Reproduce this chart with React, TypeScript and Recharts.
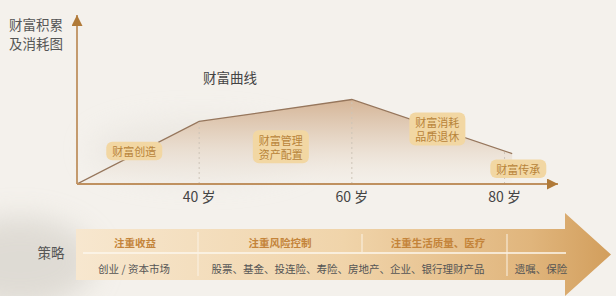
import React from 'react';
import { ComposedChart, Area, XAxis, YAxis, ReferenceLine, ReferenceDot } from 'recharts';

// ---- data ----
const ages = [24, 40, 60, 81];
const wealth = [0, 37, 50, 18];
const ageTicks = [40, 60, 80];
const guideAges = [40, 60, 80];
const guideTops = [37, 50, 20];
const stageLabels = [['财富创造'], ['财富管理', '资产配置'], ['财富消耗', '品质退休'], ['财富传承']];
const stageAges = [31.5, 50.7, 71.2, 81.8];
const stageLevels = [19.5, 22, 32.5, 9];
const strategyHeads = ['注重收益', '注重风险控制', '注重生活质量、医疗', ''];
const strategyItems = ['创业 / 资本市场', '股票、基金、投连险、寿险、房地产、企业、银行理财产品', '遗嘱、保险'];

const chartData = ages.map((a, i) => ({ age: a, wealth: wealth[i] }));

const FONT = "'Noto Sans CJK SC', 'Noto Sans', sans-serif";
const LINE_H = 14.5;

const StageBox = (props: any) => {
  const { cx, cy, lines } = props;
  const maxLen = Math.max(...lines.map((l: string) => l.length));
  const w = maxLen * 11 + 12;
  const h = lines.length * LINE_H + 4;
  return (
    <g>
      <rect x={cx - w / 2} y={cy - h / 2} width={w} height={h} rx={6} ry={6} fill="#f2d7a3" />
      {lines.map((l: string, i: number) => (
        <text
          key={i}
          x={cx}
          y={cy - ((lines.length - 1) * LINE_H) / 2 + i * LINE_H}
          textAnchor="middle"
          dominantBaseline="central"
          fontSize={11}
          fontFamily={FONT}
          fill="#b8843a"
        >
          {l}
        </text>
      ))}
    </g>
  );
};

export default function App() {
  return (
    <div style={{ position: 'absolute', left: 0, top: 0, width: 616, height: 296, background: '#f4f1ec', overflow: 'hidden' }}>
      <svg width={616} height={296} style={{ position: 'absolute', left: 0, top: 0 }}>
        <defs>
          <filter id="blurBg" x="-50%" y="-50%" width="200%" height="200%">
            <feGaussianBlur stdDeviation="14" />
          </filter>
        </defs>
        <ellipse cx={20} cy={262} rx={75} ry={45} fill="#d6d2ca" opacity={0.7} filter="url(#blurBg)" />
        <ellipse cx={200} cy={150} rx={110} ry={30} fill="#e6e2dc" opacity={0.6} filter="url(#blurBg)" />
      </svg>
      <div style={{ position: 'absolute', left: 0, top: 0 }}>
        <ComposedChart width={616} height={296} data={chartData} margin={{ top: 15, right: 58, bottom: 82, left: 67 }}>
          <defs>
            <linearGradient id="wealthFill" x1="0" y1="0" x2="0" y2="1">
              <stop offset="0%" stopColor="#d5b597" stopOpacity={1} />
              <stop offset="55%" stopColor="#e8dacb" stopOpacity={0.9} />
              <stop offset="100%" stopColor="#f3eee7" stopOpacity={0.4} />
            </linearGradient>
            <marker id="arrowX" viewBox="0 0 10 10" refX="10" refY="5" markerWidth="11" markerHeight="11" markerUnits="userSpaceOnUse" orient="auto">
              <path d="M0,0 L10,5 L0,10 z" fill="#b07a38" />
            </marker>
            <marker id="arrowY" viewBox="0 0 10 10" refX="10" refY="5" markerWidth="11" markerHeight="11" markerUnits="userSpaceOnUse" orient="auto-start-reverse">
              <path d="M0,0 L10,5 L0,10 z" fill="#b07a38" />
            </marker>
          </defs>
          <XAxis
            dataKey="age"
            type="number"
            domain={[24, 87]}
            ticks={ageTicks}
            tickFormatter={(v: number) => `${v} 岁`}
            axisLine={{ stroke: '#bf9160', strokeWidth: 1.8, markerEnd: 'url(#arrowX)' }}
            tickLine={false}
            tick={{ fill: '#444', fontSize: 14, fontFamily: FONT }}
            height={30}
            allowDataOverflow
          />
          <YAxis
            type="number"
            domain={[0, 100]}
            width={10}
            ticks={[]}
            tick={false}
            tickLine={false}
            axisLine={{ stroke: '#bf9160', strokeWidth: 1.8, markerStart: 'url(#arrowY)' }}
            allowDataOverflow
          />
          <Area
            type="linear"
            dataKey="wealth"
            stroke="#96765c"
            strokeWidth={1.3}
            fill="url(#wealthFill)"
            fillOpacity={1}
            isAnimationActive={false}
            dot={false}
            activeDot={false}
          />
          {guideAges.map((a, i) => (
            <ReferenceLine
              key={'g' + a}
              segment={[{ x: a, y: 0 }, { x: a, y: guideTops[i] }]}
              stroke="#cdc4b8"
              strokeDasharray="2 3"
              strokeWidth={1}
            />
          ))}
          {stageLabels.map((lines, i) => (
            <ReferenceDot
              key={'s' + i}
              x={stageAges[i]}
              y={stageLevels[i]}
              r={1}
              shape={(p: any) => <StageBox cx={p.cx} cy={p.cy} lines={lines} />}
            />
          ))}
        </ComposedChart>
      </div>
      <svg width={616} height={296} style={{ position: 'absolute', left: 0, top: 0, pointerEvents: 'none' }}>
        <defs>
          <linearGradient id="bandFill" gradientUnits="userSpaceOnUse" x1="76" y1="0" x2="611" y2="0">
            <stop offset="0%" stopColor="#f7e7cf" />
            <stop offset="50%" stopColor="#f0d4aa" />
            <stop offset="85%" stopColor="#e0b57c" />
            <stop offset="100%" stopColor="#d29e5c" />
          </linearGradient>
        </defs>
        <text fontFamily={FONT} fontSize={13.5} fill="#555" x={9} y={24} dominantBaseline="central">财富积累</text>
        <text fontFamily={FONT} fontSize={13.5} fill="#555" x={9} y={43} dominantBaseline="central">及消耗图</text>
        <text fontFamily={FONT} fontSize={13.5} fill="#444" x={203} y={76.5} dominantBaseline="central">财富曲线</text>
        <text fontFamily={FONT} fontSize={13.5} fill="#555" x={51} y={252} textAnchor="middle" dominantBaseline="central">策略</text>

        <polygon points="76,229 565,229 565,213 611,254.5 565,296 565,280 76,280" fill="url(#bandFill)" />
        <line x1={83} y1={253} x2={566} y2={253} stroke="#fdf7ee" strokeWidth={1.6} />
        <line x1={198} y1={232} x2={198} y2={276} stroke="#fbf2e4" strokeWidth={1} />
        <line x1={362} y1={234} x2={362} y2={252} stroke="#fbf2e4" strokeWidth={1} />
        <line x1={507} y1={234} x2={507} y2={276} stroke="#fbf2e4" strokeWidth={1} />

        {[135, 280, 438, 540].map((cx, i) => (
          <text key={'h' + i} x={cx} y={242} textAnchor="middle" dominantBaseline="central" fontFamily={FONT} fontSize={10.5} fontWeight="bold" fill="#c4843a">
            {strategyHeads[i]}
          </text>
        ))}
        {[134, 348, 541].map((cx, i) => (
          <text key={'r' + i} x={cx} y={268} textAnchor="middle" dominantBaseline="central" fontFamily={FONT} fontSize={10.5} fill="#555">
            {strategyItems[i]}
          </text>
        ))}
      </svg>
    </div>
  );
}
